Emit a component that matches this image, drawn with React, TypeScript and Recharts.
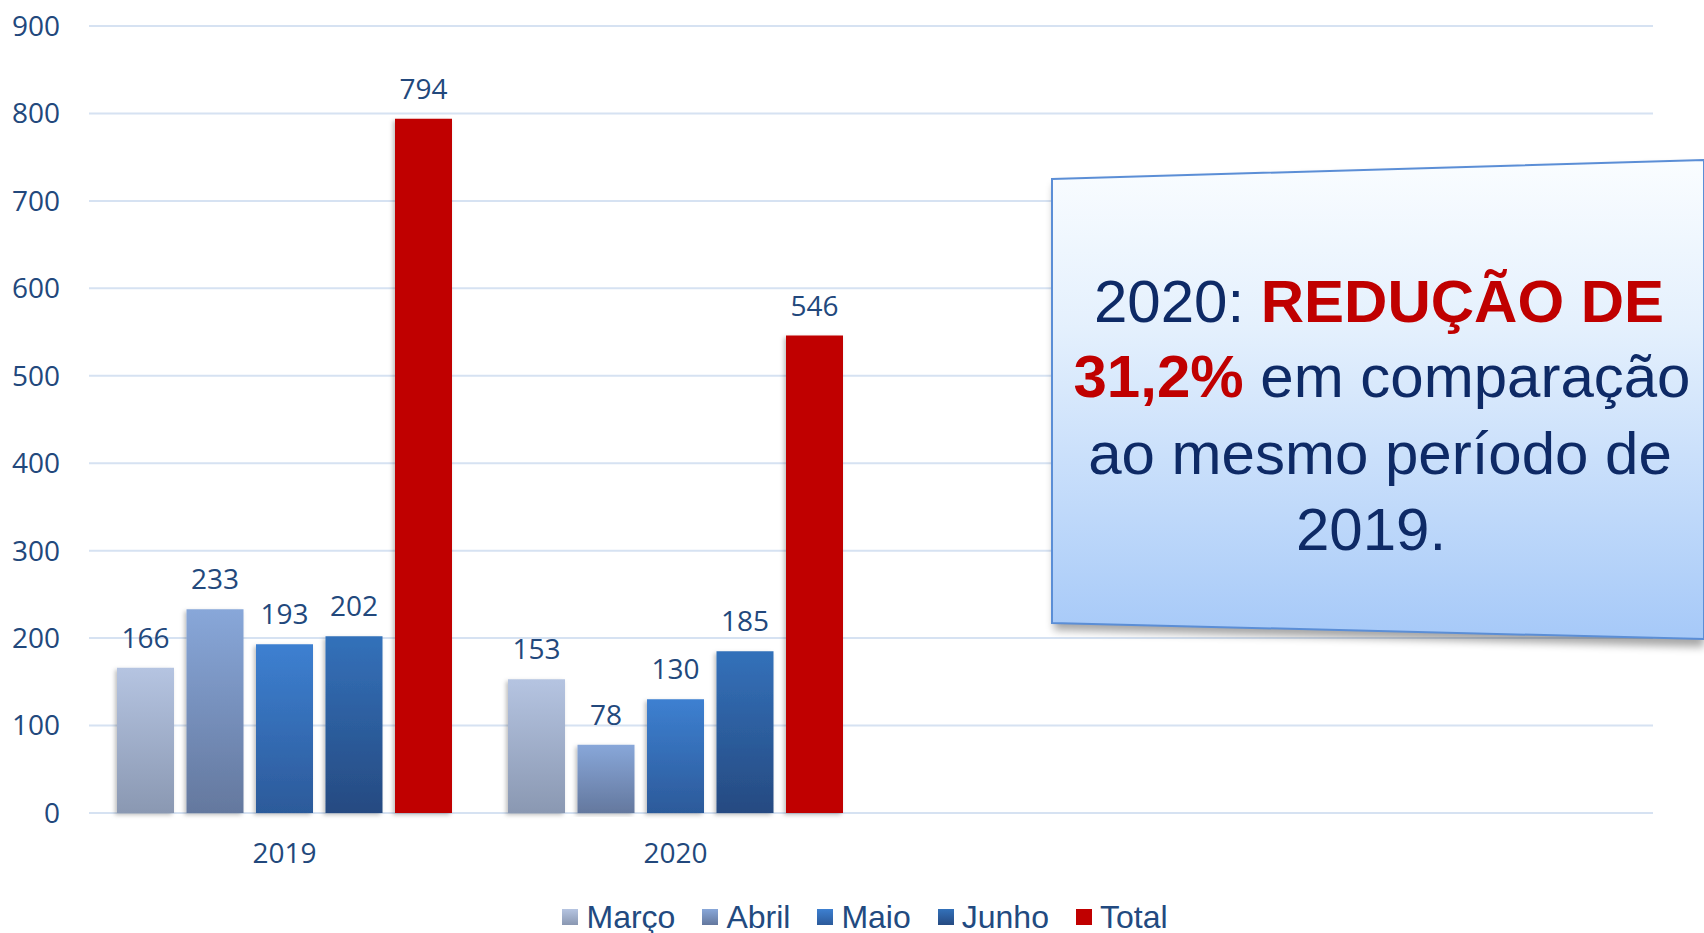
import React from 'react';
import { BarChart, Bar, XAxis, YAxis, CartesianGrid, Legend, LabelList } from 'recharts';

const categories = ['2019', '2020', ' ', '  '];
const marco = [166, 153, null, null];
const abril = [233, 78, null, null];
const maio = [193, 130, null, null];
const junho = [202, 185, null, null];
const total = [794, 546, null, null];
const yTicks = [0, 100, 200, 300, 400, 500, 600, 700, 800, 900];

const SERIES = [
  { key: 'marco', name: 'Março', top: '#B5C4E1', bottom: '#8A98B2' },
  { key: 'abril', name: 'Abril', top: '#88A7D9', bottom: '#64789E' },
  { key: 'maio', name: 'Maio', top: '#3D80D1', bottom: '#2C5A9A' },
  { key: 'junho', name: 'Junho', top: '#3371BA', bottom: '#264A81' },
  { key: 'total', name: 'Total', top: '#C00000', bottom: '#C00000' },
];

const TEXT = '#22487C';
const NAVY = '#0E2A66';
const RED = '#C00000';

const data = categories.map((ano, i) => ({
  ano,
  marco: marco[i],
  abril: abril[i],
  maio: maio[i],
  junho: junho[i],
  total: total[i],
}));

function LegendContent() {
  return (
    <div
      style={{
        display: 'flex',
        justifyContent: 'center',
        alignItems: 'center',
        height: 32,
        paddingLeft: 104,
        fontFamily: '"Liberation Sans", Arial, sans-serif',
        fontSize: 32,
        lineHeight: '32px',
        color: '#224A80',
      }}
    >
      {SERIES.map((s) => (
        <div key={s.key} style={{ display: 'flex', alignItems: 'center', marginRight: 27 }}>
          <div
            style={{
              width: 16,
              height: 16,
              marginRight: 8,
              background: `linear-gradient(${s.top}, ${s.bottom})`,
            }}
          />
          <span>{s.name}</span>
        </div>
      ))}
    </div>
  );
}

function Callout() {
  const font = '"Liberation Sans", Arial, sans-serif';
  return (
    <svg
      width={1704}
      height={933}
      style={{ position: 'absolute', left: 0, top: 0, pointerEvents: 'none' }}
    >
      <defs>
        <linearGradient id="boxFill" x1="0" y1="0" x2="0" y2="1">
          <stop offset="0%" stopColor="#FAFDFF" />
          <stop offset="35%" stopColor="#E4F0FD" />
          <stop offset="100%" stopColor="#A6C9F8" />
        </linearGradient>
        <filter id="boxShadow" x="-10%" y="-10%" width="120%" height="130%">
          <feGaussianBlur stdDeviation="4" />
        </filter>
      </defs>
      <polygon points="1054,185 1704,166 1704,647 1054,630" fill="#000" opacity={0.35} filter="url(#boxShadow)" />
      <polygon
        points="1052,179 1704,160 1704,639 1052,623"
        fill="url(#boxFill)"
        stroke="#5B8ED6"
        strokeWidth={2}
      />
      <g fontFamily={font} fontSize={60} fill={NAVY} textAnchor="middle">
        <text x={1379} y={322}>
          <tspan>2020: </tspan>
          <tspan fill={RED} fontWeight="bold">REDUÇÃO DE</tspan>
        </text>
        <text x={1382} y={397}>
          <tspan fill={RED} fontWeight="bold">31,2%</tspan>
          <tspan> em comparação</tspan>
        </text>
        <text x={1380} y={474}>ao mesmo período de</text>
        <text x={1371} y={550}>2019.</text>
      </g>
    </svg>
  );
}

export default function App() {
  const tickStyle = { fill: TEXT, fontSize: 28, fontFamily: '"Open Sans", sans-serif' };
  return (
    <div style={{ position: 'absolute', left: 0, top: 0, width: 1704, height: 933, background: '#fff' }}>
      <BarChart
        width={1704}
        height={933}
        data={data}
        margin={{ top: 26, right: 51, left: 0, bottom: 0 }}
        barSize={57}
        barGap={12.5}
      >
        <defs>
          {SERIES.map((s) => (
            <linearGradient key={s.key} id={`grad-${s.key}`} x1="0" y1="0" x2="0" y2="1">
              <stop offset="0%" stopColor={s.top} />
              <stop offset="100%" stopColor={s.bottom} />
            </linearGradient>
          ))}
          <filter id="barShadow" x="-20%" y="-5%" width="140%" height="110%">
            <feDropShadow dx={-2} dy={2} stdDeviation={2} floodColor="#000" floodOpacity={0.25} />
          </filter>
        </defs>
        <CartesianGrid vertical={false} stroke="#D6E2F2" strokeWidth={2} />
        <XAxis
          dataKey="ano"
          height={88}
          axisLine={false}
          tickLine={false}
          tickSize={0}
          tickMargin={30}
          tick={tickStyle}
          interval={0}
        />
        <YAxis
          width={89}
          domain={[0, 900]}
          ticks={yTicks}
          axisLine={false}
          tickLine={false}
          tickSize={0}
          tickMargin={29}
          tick={tickStyle}
        />
        <Legend verticalAlign="bottom" height={32} content={<LegendContent />} />
        {SERIES.map((s) => (
          <Bar
            key={s.key}
            dataKey={s.key}
            name={s.name}
            fill={`url(#grad-${s.key})`}
            filter="url(#barShadow)"
            isAnimationActive={false}
          >
            <LabelList
              dataKey={s.key}
              position="top"
              offset={20}
              fill={TEXT}
              fontSize={28}
              fontFamily='"Open Sans", sans-serif'
            />
          </Bar>
        ))}
      </BarChart>
      <Callout />
    </div>
  );
}
